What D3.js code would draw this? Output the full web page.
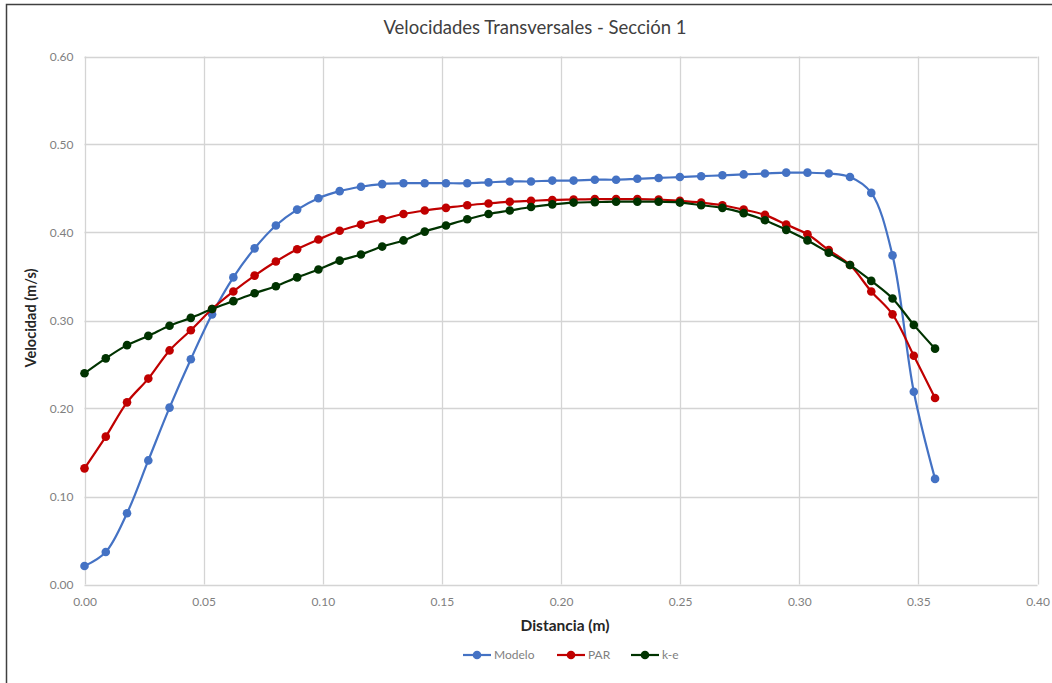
<!DOCTYPE html>
<html>
<head>
<meta charset="utf-8">
<script src="https://cdn.jsdelivr.net/npm/d3@7"></script>
<style>
  html, body { margin: 0; padding: 0; background: #ffffff; }
  svg { display: block; font-family: "Lato", "Open Sans", sans-serif; }
</style>
</head>
<body>
<svg id="chart" width="1052" height="683"></svg>
<script>
// Distance along the transverse section (m): 41 stations, 0 to 0.357
const STEP = 0.008925;
const distancia = d3.range(41).map(i => +(i * STEP).toFixed(5));

// Velocity profiles (m/s)
const modelo = [
  0.021, 0.037, 0.081, 0.141, 0.201, 0.256, 0.307, 0.349, 0.382, 0.408,
  0.426, 0.439, 0.447, 0.452, 0.455, 0.456, 0.456, 0.456, 0.456, 0.457,
  0.458, 0.458, 0.459, 0.459, 0.460, 0.460, 0.461, 0.462, 0.463, 0.464,
  0.465, 0.466, 0.467, 0.468, 0.468, 0.467, 0.463, 0.445, 0.374, 0.219,
  0.120
];
const par = [
  0.132, 0.168, 0.207, 0.234, 0.266, 0.289, 0.313, 0.333, 0.351, 0.367,
  0.381, 0.392, 0.402, 0.409, 0.415, 0.421, 0.425, 0.428, 0.431, 0.433,
  0.435, 0.436, 0.437, 0.4375, 0.438, 0.438, 0.438, 0.4375, 0.436, 0.434,
  0.431, 0.426, 0.420, 0.409, 0.398, 0.380, 0.363, 0.333, 0.307, 0.260,
  0.212
];
const ke = [
  0.240, 0.257, 0.272, 0.2825, 0.294, 0.303, 0.313, 0.322, 0.331, 0.339,
  0.349, 0.358, 0.368, 0.375, 0.384, 0.391, 0.401, 0.408, 0.415, 0.421,
  0.425, 0.429, 0.432, 0.434, 0.4345, 0.435, 0.435, 0.435, 0.434, 0.431,
  0.428, 0.422, 0.414, 0.403, 0.391, 0.377, 0.363, 0.345, 0.325, 0.295,
  0.268
];

const seriesNames = ["Modelo", "PAR", "k-e"];
const seriesColors = ["#4472C4", "#C00000", "#003300"];
const seriesValues = [modelo, par, ke];

const xTicks = [0, 0.05, 0.10, 0.15, 0.20, 0.25, 0.30, 0.35, 0.40];
const yTicks = [0, 0.10, 0.20, 0.30, 0.40, 0.50, 0.60];

const titleText = "Velocidades Transversales - Sección 1";
const xTitle = "Distancia (m)";
const yTitle = "Velocidad (m/s)";

const svg = d3.select("#chart");

// outer chart frame (top and left edges visible)
svg.append("path")
  .attr("d", "M6.5,683 L6.5,4.5 L1052,4.5")
  .attr("fill", "none")
  .attr("stroke", "#404040")
  .attr("stroke-width", 1.5);

const plot = { left: 84.5, right: 1037.5, top: 56.5, bottom: 584.5 };

const x = d3.scaleLinear().domain([0, 0.40]).range([plot.left, plot.right]);
const y = d3.scaleLinear().domain([0, 0.60]).range([plot.bottom, plot.top]);

// gridlines
const grid = svg.append("g").attr("stroke", "#D4D4D4").attr("stroke-width", 1.3);
grid.selectAll("line.h").data(yTicks).join("line")
  .attr("x1", plot.left).attr("x2", plot.right)
  .attr("y1", d => Math.round(y(d)) + 0.5).attr("y2", d => Math.round(y(d)) + 0.5);
grid.selectAll("line.v").data(xTicks).join("line")
  .attr("x1", d => Math.round(x(d)) + 0.5).attr("x2", d => Math.round(x(d)) + 0.5)
  .attr("y1", plot.top).attr("y2", plot.bottom);

// axes (tick labels only, no tick marks)
const xAxis = d3.axisBottom(x).tickValues(xTicks).tickFormat(d3.format(".2f")).tickSize(0).tickPadding(13);
const yAxis = d3.axisLeft(y).tickValues(yTicks).tickFormat(d3.format(".2f")).tickSize(0).tickPadding(11);

const gx = svg.append("g").attr("transform", `translate(0,${plot.bottom})`).call(xAxis);
const gy = svg.append("g").attr("transform", `translate(${plot.left},0)`).call(yAxis);
[gx, gy].forEach(g => {
  g.select(".domain").remove();
  g.selectAll("text").attr("fill", "#7F7F7F").style("font-size", "12px")
    .style("font-family", "Lato, 'Open Sans', sans-serif");
});

// title and axis titles
svg.append("text")
  .attr("x", 535).attr("y", 34)
  .attr("text-anchor", "middle")
  .attr("fill", "#404040")
  .style("font-size", "18.5px")
  .text(titleText);

svg.append("text")
  .attr("x", 565).attr("y", 631)
  .attr("text-anchor", "middle")
  .attr("fill", "#262626")
  .style("font-size", "15.5px")
  .style("font-weight", "bold")
  .text(xTitle);

svg.append("text")
  .attr("transform", "translate(36,318) rotate(-90)")
  .attr("text-anchor", "middle")
  .attr("fill", "#262626")
  .style("font-size", "14.5px")
  .style("font-weight", "bold")
  .text(yTitle);

// series: smoothed lines with round markers
const line = d3.line()
  .x((d, i) => x(distancia[i]))
  .y(d => y(d))
  .curve(d3.curveCatmullRom.alpha(0.5));

seriesValues.forEach((vals, s) => {
  const g = svg.append("g");
  g.append("path")
    .datum(vals)
    .attr("d", line)
    .attr("fill", "none")
    .attr("stroke", seriesColors[s])
    .attr("stroke-width", 2.2)
    .attr("stroke-linejoin", "round");
  g.selectAll("circle").data(vals).join("circle")
    .attr("cx", (d, i) => x(distancia[i]))
    .attr("cy", d => y(d))
    .attr("r", 4.3)
    .attr("fill", seriesColors[s]);
});

// legend
const legendX = [463, 557, 631];
const legend = svg.append("g").attr("transform", "translate(0,655)");
seriesNames.forEach((name, s) => {
  const lg = legend.append("g").attr("transform", `translate(${legendX[s]},0)`);
  lg.append("line").attr("x1", 0).attr("x2", 28).attr("y1", 0).attr("y2", 0)
    .attr("stroke", seriesColors[s]).attr("stroke-width", 2.2);
  lg.append("circle").attr("cx", 14).attr("cy", 0).attr("r", 4.3).attr("fill", seriesColors[s]);
  lg.append("text").attr("x", 31).attr("y", 4)
    .attr("fill", "#7F7F7F").style("font-size", "12px").text(name);
});
</script>
</body>
</html>
